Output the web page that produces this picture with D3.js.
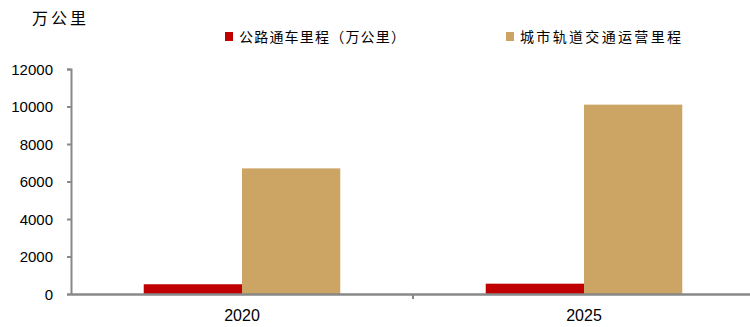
<!DOCTYPE html>
<html>
<head>
<meta charset="utf-8">
<script src="https://cdn.jsdelivr.net/npm/d3@7"></script>
<style>
  body { margin: 0; background: #fff; }
  svg { display: block; }
</style>
</head>
<body>
<div id="chart"></div>
<script>
// data
var years = ["2020", "2025"];
var seriesNames = ["公路通车里程（万公里）", "城市轨道交通运营里程"];
var highway = [520, 550];
var metro = [6700, 10100];
var yTicks = [0, 2000, 4000, 6000, 8000, 10000, 12000];
var colors = ["#c00000", "#cca565"];

var W = 750, H = 327;
var margin = { top: 69, right: 0, bottom: 33, left: 71 };

var svg = d3.select("#chart").append("svg")
  .attr("width", W)
  .attr("height", H);

var x = d3.scaleBand()
  .domain(years)
  .range([margin.left, 755])
  .paddingInner(0)
  .paddingOuter(0);

var y = d3.scaleLinear()
  .domain([0, 12000])
  .range([294, margin.top]);

// inner band for the two series
var xs = d3.scaleBand()
  .domain([0, 1])
  .range([0, x.bandwidth()])
  .paddingInner(0)
  .paddingOuter(0.74);

var rows = years.map(function (yr, i) {
  return { year: yr, values: [highway[i], metro[i]] };
});

// bars
var g = svg.append("g").selectAll("g")
  .data(rows)
  .enter().append("g")
  .attr("transform", function (d) { return "translate(" + x(d.year) + ",0)"; });

g.selectAll("rect")
  .data(function (d) { return d.values; })
  .enter().append("rect")
  .attr("x", function (d, i) { return xs(i); })
  .attr("width", xs.bandwidth())
  .attr("y", function (d) { return y(d); })
  .attr("height", function (d) { return y(0) - y(d); })
  .attr("fill", function (d, i) { return colors[i]; });

// y axis
var yAxis = svg.append("g")
  .attr("transform", "translate(" + margin.left + ",0)")
  .call(d3.axisLeft(y).tickValues(yTicks).tickSize(4).tickPadding(14).tickFormat(d3.format("d")));
yAxis.select(".domain").attr("stroke", "#888").attr("stroke-width", 2);
yAxis.selectAll(".tick line").attr("stroke", "#888").attr("stroke-width", 2);
yAxis.selectAll("text")
  .attr("fill", "#000")
  .style("font-family", "'Liberation Sans', Arial, sans-serif")
  .style("font-size", "15px")
  .attr("dy", "0.35em");

// x axis
var xAxis = svg.append("g")
  .attr("transform", "translate(0," + y(0) + ")")
  .call(d3.axisBottom(x).tickSize(0).tickPadding(16));
xAxis.select(".domain").attr("stroke", "#888").attr("stroke-width", 2.5);
xAxis.selectAll("text")
  .attr("fill", "#000")
  .style("font-family", "'Liberation Sans', Arial, sans-serif")
  .style("font-size", "16px");
// category separator tick
xAxis.append("line")
  .attr("x1", x("2025")).attr("x2", x("2025"))
  .attr("y1", 0).attr("y2", 5)
  .attr("stroke", "#888").attr("stroke-width", 2);

// unit label
svg.append("text")
  .attr("x", 32)
  .attr("y", 24)
  .style("font-family", "'Noto Sans CJK SC', sans-serif")
  .style("font-size", "16px")
  .style("letter-spacing", "3px")
  .attr("fill", "#000")
  .text("万公里");

// legend
var legendX = [225, 506];
var legendLen = [166, 161];
var legend = svg.append("g").selectAll("g")
  .data(seriesNames)
  .enter().append("g")
  .attr("transform", function (d, i) { return "translate(" + legendX[i] + ",32)"; });

legend.append("rect")
  .attr("width", 8)
  .attr("height", 9)
  .attr("fill", function (d, i) { return colors[i]; });

legend.append("text")
  .attr("x", 14)
  .attr("y", 10)
  .attr("textLength", function (d, i) { return legendLen[i]; })
  .attr("lengthAdjust", "spacing")
  .style("font-family", "'Noto Sans CJK SC', sans-serif")
  .style("font-size", "14px")
  .attr("fill", "#000")
  .text(function (d) { return d; });
</script>
</body>
</html>
